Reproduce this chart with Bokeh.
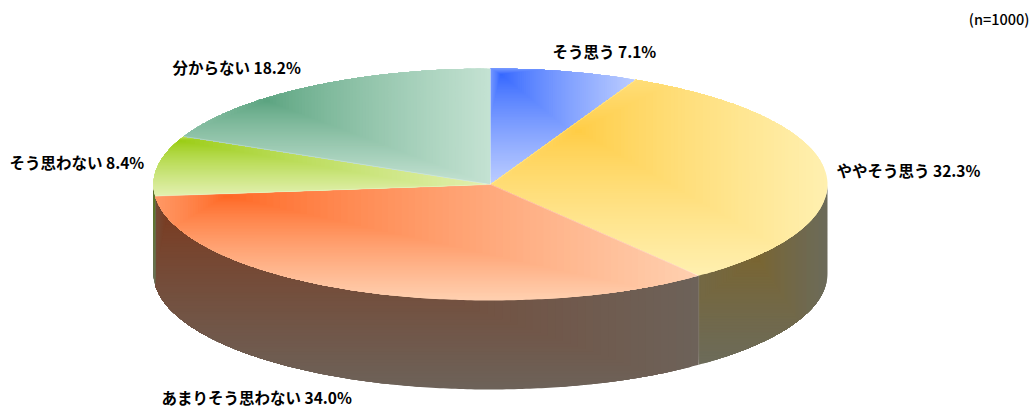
import math
from bokeh.plotting import figure
from bokeh.models import ColumnDataSource, Range1d
from bokeh.core.properties import value
from bokeh.embed import file_html
from bokeh.resources import INLINE

categories = ["そう思う", "ややそう思う", "あまりそう思わない", "そう思わない", "分からない"]
shares = [7.1, 32.3, 34.0, 8.4, 18.2]
note = "(n=1000)"

top_dark = ["#3366ff", "#ffcc44", "#ff6622", "#99cc11", "#5aa37f"]
top_light = ["#bccdff", "#fff0b0", "#ffd0b0", "#e2f0b0", "#c4e2d2"]
side_dark = ["#1a3380", "#7a6530", "#7c3619", "#5c7a20", "#2d5240"]
side_light = ["#5e6680", "#6c6b5a", "#6d6259", "#6a7058", "#626e69"]
top_focus = [(.07, .05), (.26, .26), (.13, .10), (.07, .07), (.27, .28)]

label_pos = [(552, 50), (836, 169), (161, 396), (9, 161), (172, 66)]

CX, CY, RX, RY, DEPTH = 490.0, 184.0, 337.0, 116.0, 89.0
LEVELS = 70
BACK_STRETCH = 2.5
GAMMA = 0.8
FONT = "Noto Sans CJK JP"


def hex2rgb(h):
    return tuple(int(h[i:i + 2], 16) for i in (1, 3, 5))


def lerp(a, b, t):
    a, b = hex2rgb(a), hex2rgb(b)
    return "#%02x%02x%02x" % tuple(round(a[i] + (b[i] - a[i]) * t) for i in range(3))


def pt(deg, dy=0.0):
    r = math.radians(deg)
    return CX + RX * math.sin(r), CY - RY * math.cos(r) + dy


def arc(a0, a1, dy=0.0):
    n = max(2, int(abs(a1 - a0) * 1.5))
    return [pt(a0 + (a1 - a0) * i / n, dy) for i in range(n + 1)]


def clip(poly, axis, lim, keep_less):
    out = []
    for i, p in enumerate(poly):
        q = poly[(i + 1) % len(poly)]
        pin = p[axis] <= lim if keep_less else p[axis] >= lim
        qin = q[axis] <= lim if keep_less else q[axis] >= lim
        if pin:
            out.append(p)
        if pin != qin:
            s = (lim - p[axis]) / (q[axis] - p[axis])
            out.append((p[0] + (q[0] - p[0]) * s, p[1] + (q[1] - p[1]) * s))
    return out


xs, ys, cols = [], [], []


def bands(poly, focus, dark, light):
    x0, x1 = min(p[0] for p in poly), max(p[0] for p in poly)
    y0, y1 = min(p[1] for p in poly), max(p[1] for p in poly)
    fx, fy = x0 + focus[0] * (x1 - x0), y0 + focus[1] * (y1 - y0)
    lx = (fx - x0) * BACK_STRETCH
    ly = (fy - y0) * BACK_STRETCH
    for k in range(LEVELS, 0, -1):
        t = k / LEVELS
        c = poly
        for axis, lim, less in ((0, fx - t * lx, False), (0, fx + t * (x1 - fx), True),
                                (1, fy - t * ly, False), (1, fy + t * (y1 - fy), True)):
            c = clip(c, axis, lim, less)
            if not c:
                break
        if len(c) < 3:
            continue
        xs.append([p[0] for p in c])
        ys.append([p[1] for p in c])
        cols.append(lerp(dark, light, ((k - .5) / LEVELS) ** GAMMA))


edges = [0.0]
for s in shares:
    edges.append(edges[-1] + s * 3.6)

side_focus_px = {1: (757, 258), 2: (170, 200), 3: (154, 200)}
for i in range(len(shares)):
    a0, a1 = max(edges[i], 90), min(edges[i + 1], 270)
    if a1 <= a0:
        continue
    poly = arc(a0, a1) + arc(a1, a0, DEPTH)
    xx = [p[0] for p in poly]
    yy = [p[1] for p in poly]
    fx, fy = side_focus_px[i]
    f = ((fx - min(xx)) / (max(xx) - min(xx)), (fy - min(yy)) / (max(yy) - min(yy)))
    bands(poly, f, side_dark[i], side_light[i])

for i in range(len(shares)):
    poly = [(CX, CY)] + arc(edges[i], edges[i + 1])
    bands(poly, top_focus[i], top_dark[i], top_light[i])

p = figure(width=1032, height=407, x_range=Range1d(0, 1032), y_range=Range1d(407, 0),
           toolbar_location=None, output_backend="svg", min_border=0, outline_line_color=None)
p.axis.visible = False
p.grid.visible = False
p.patches("xs", "ys", fill_color="color", line_color=None,
          source=ColumnDataSource(dict(xs=xs, ys=ys, color=cols)))

# thin pale seams between the slices and down the front edge
sx, sy = [], []
for a in edges[:-1]:
    e = pt(a)
    sx.append([CX, e[0]])
    sy.append([CY, e[1]])
p.multi_line(sx, sy, line_color="#ffffff", line_alpha=.25, line_width=1)
e = pt(edges[2])
p.line([e[0], e[0]], [e[1], e[1] + DEPTH], line_color="#ffffff", line_alpha=.12, line_width=1)

texts = ["%s %.1f%%" % (c, s) for c, s in zip(categories, shares)]
p.text([q[0] for q in label_pos], [q[1] for q in label_pos], texts,
       text_font=value(FONT), text_font_style="bold", text_font_size="15.5px",
       text_color="#000000", text_align="left", text_baseline="middle")
p.text([1029], [18], [note], text_font=value("Noto Sans CJK JP Medium"), text_font_size="14.5px",
       text_color="#000000", text_align="right", text_baseline="middle")

open("out.html", "w").write(file_html(p, INLINE))
